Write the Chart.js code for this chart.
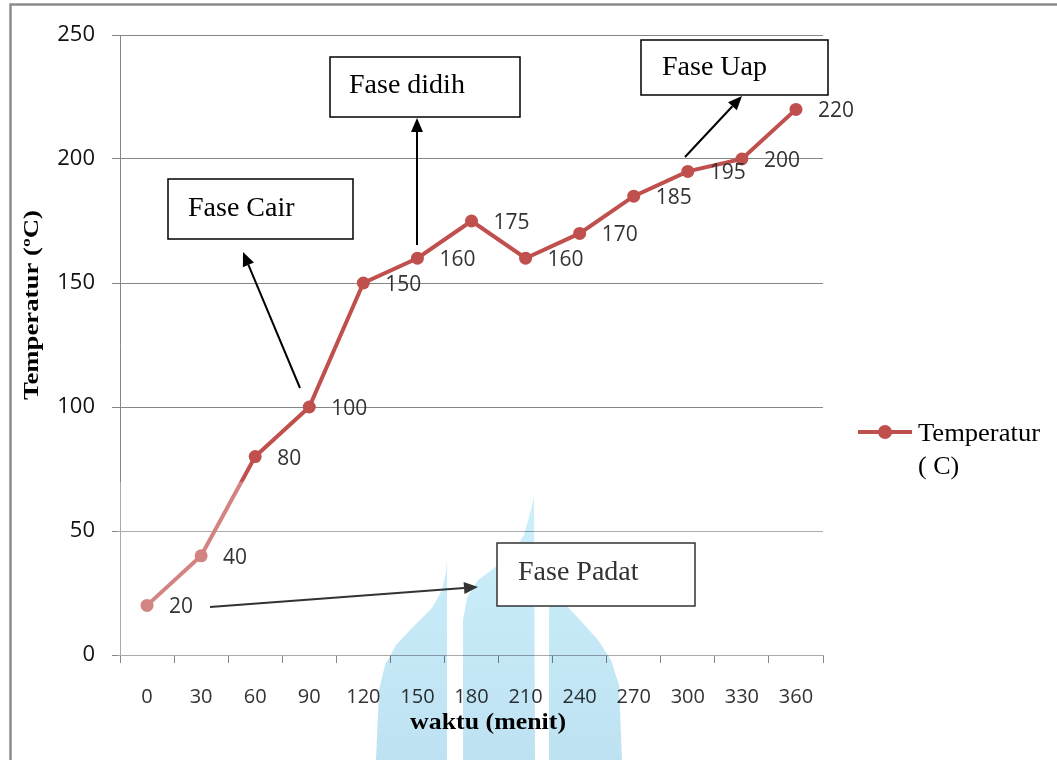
<!DOCTYPE html>
<html>
<head>
<meta charset="utf-8">
<script src="https://cdn.jsdelivr.net/npm/chart.js@4.4.1/dist/chart.umd.min.js"></script>
<style>
  html, body { margin: 0; padding: 0; background: #fff; }
  canvas { display: block; }
</style>
</head>
<body>
<canvas id="myChart" width="1057" height="760"></canvas>
<script>
// data
const waktu = ['0', '30', '60', '90', '120', '150', '180', '210', '240', '270', '300', '330', '360'];
const suhu = [20, 40, 80, 100, 150, 160, 175, 160, 170, 185, 195, 200, 220];
const yMin = 0, yMax = 250, yStep = 50;
const seriesName = ['Temperatur', '( C)'];
const xTitle = 'waktu (menit)';
const yTitle = 'Temperatur (ºC)';

const red = '#C0504D';
const gray = '#868686';

// text boxes + arrows drawn on top (pixel layout of the annotations)
const notes = [
    { text: 'Fase Cair', box: [168, 179, 185, 60], tx: 188, ty: 209, arrow: [300, 388, 243, 252], color: '#000' },
    { text: 'Fase didih', box: [330, 57, 190, 60], tx: 349, ty: 86, arrow: [417, 245, 417, 118], color: '#000' },
    { text: 'Fase Uap', box: [641, 40, 187, 55], tx: 662, ty: 68, arrow: [685, 157, 742, 96], color: '#000' },
    { text: 'Fase Padat', box: [497, 543, 198, 63], tx: 518, ty: 573, arrow: [210, 607, 478, 587], color: '#333' }
];

// watermark lobes behind everything (decoration)
const lobes = [
    [[447, 560], [447, 760], [376, 760], [379, 690], [385, 665], [396, 645], [412, 628], [432, 608], [442, 590], [446, 572]],
    [[534, 496], [535, 760], [463, 760], [463, 620], [467, 598], [478, 580], [497, 566], [512, 553], [524, 535], [531, 510]],
    [[549, 573], [549, 760], [622, 760], [619, 685], [611, 660], [598, 640], [580, 620], [563, 602], [553, 588]]
];

function arrow(ctx, x1, y1, x2, y2, color) {
    const a = Math.atan2(y2 - y1, x2 - x1);
    const len = 14, half = 6;
    const bx = x2 - len * Math.cos(a), by = y2 - len * Math.sin(a);
    ctx.strokeStyle = color;
    ctx.fillStyle = color;
    ctx.lineWidth = 2;
    ctx.beginPath();
    ctx.moveTo(x1, y1);
    ctx.lineTo(bx, by);
    ctx.stroke();
    ctx.beginPath();
    ctx.moveTo(x2, y2);
    ctx.lineTo(bx + half * Math.sin(a), by - half * Math.cos(a));
    ctx.lineTo(bx - half * Math.sin(a), by + half * Math.cos(a));
    ctx.closePath();
    ctx.fill();
}

function fitText(ctx, text, x, y, width) {
    // squeeze/stretch text to the measured width in the picture
    const w = ctx.measureText(text).width;
    ctx.save();
    ctx.translate(x, y);
    ctx.scale(width / w, 1);
    ctx.fillText(text, 0, 0);
    ctx.restore();
}

const decor = {
    id: 'decor',
    beforeDraw(chart) {
        const ctx = chart.ctx;
        ctx.save();
        ctx.fillStyle = '#fff';
        ctx.fillRect(0, 0, chart.width, chart.height);
        ctx.strokeStyle = '#8c8c8c';
        ctx.lineWidth = 2.5;
        ctx.beginPath();
        ctx.moveTo(10.5, 760);
        ctx.lineTo(10.5, 4.5);
        ctx.lineTo(1057, 4.5);
        ctx.stroke();
        ctx.restore();
    },
    afterDatasetsDraw(chart) {
        const ctx = chart.ctx;
        const area = chart.chartArea;
        const meta = chart.getDatasetMeta(0);
        ctx.save();

        // faded lower band of the plot
        ctx.fillStyle = 'rgba(255,255,255,0.3)';
        ctx.fillRect(area.left - 2, 482, area.right - area.left + 4, area.bottom - 482 + 1);

        // watermark (multiply keeps dark text dark)
        ctx.globalCompositeOperation = 'multiply';
        const g = ctx.createLinearGradient(0, 495, 0, 760);
        g.addColorStop(0, '#cdf0fb');
        g.addColorStop(1, '#bfe2f3');
        ctx.fillStyle = g;
        lobes.forEach(pts => {
            ctx.beginPath();
            pts.forEach((p, i) => i ? ctx.lineTo(p[0], p[1]) : ctx.moveTo(p[0], p[1]));
            ctx.closePath();
            ctx.fill();
        });
        ctx.globalCompositeOperation = 'source-over';

        // value labels right of each point
        ctx.font = '21px "Open Sans"';
        ctx.fillStyle = '#333';
        ctx.textAlign = 'left';
        ctx.textBaseline = 'middle';
        meta.data.forEach((pt, i) => {
            ctx.fillText(String(suhu[i]), pt.x + 22, pt.y + 2);
        });

        // axis titles
        ctx.fillStyle = '#000';
        ctx.font = 'bold 23px "Liberation Serif"';
        ctx.textAlign = 'left';
        fitText(ctx, xTitle, 410, 723, 156);
        ctx.save();
        ctx.translate(32, 400);
        ctx.rotate(-Math.PI / 2);
        ctx.font = 'bold 22px "Liberation Serif"';
        fitText(ctx, yTitle, 0, 0, 190);
        ctx.restore();

        // legend
        const ds = chart.data.datasets[0];
        ctx.strokeStyle = ds.borderColor;
        ctx.lineWidth = 4;
        ctx.beginPath();
        ctx.moveTo(858, 432);
        ctx.lineTo(912, 432);
        ctx.stroke();
        ctx.fillStyle = ds.borderColor;
        ctx.beginPath();
        ctx.arc(885, 432, 7, 0, Math.PI * 2);
        ctx.fill();
        ctx.fillStyle = '#000';
        ctx.font = '26px "Liberation Serif"';
        fitText(ctx, seriesName[0], 918, 434, 122);
        ctx.fillText(seriesName[1], 918, 467);

        // annotation boxes and arrows
        notes.forEach(n => {
            ctx.fillStyle = '#fff';
            ctx.fillRect(n.box[0], n.box[1], n.box[2], n.box[3]);
            ctx.strokeStyle = n.color;
            ctx.lineWidth = 1.5;
            ctx.strokeRect(n.box[0], n.box[1], n.box[2], n.box[3]);
            ctx.fillStyle = n.color;
            ctx.font = '28px "Liberation Serif"';
            ctx.textAlign = 'left';
            ctx.textBaseline = 'middle';
            ctx.fillText(n.text, n.tx, n.ty);
            arrow(ctx, n.arrow[0], n.arrow[1], n.arrow[2], n.arrow[3], n.color);
        });

        ctx.restore();
    }
};

let ctx = document.getElementById('myChart').getContext('2d');
let myChart = new Chart(ctx, {
    type: 'line',
    data: {
        labels: waktu,
        datasets: [{
            label: seriesName.join(' '),
            data: suhu,
            borderColor: red,
            backgroundColor: red,
            borderWidth: 4,
            pointRadius: 6.5,
            pointBorderWidth: 0,
            pointBackgroundColor: red,
            fill: false,
            tension: 0
        }]
    },
    options: {
        responsive: false,
        animation: false,
        layout: {
            padding: { top: 35, right: 234, left: 0, bottom: 0 }
        },
        plugins: {
            legend: { display: false },
            tooltip: { enabled: false }
        },
        scales: {
            x: {
                offset: true,
                grid: {
                    offset: true,
                    drawOnChartArea: false,
                    tickLength: 8,
                    color: gray
                },
                border: { color: gray, width: 1 },
                ticks: {
                    font: { family: 'Open Sans', size: 20 },
                    color: '#333',
                    padding: 22,
                    maxRotation: 0,
                    autoSkip: false
                },
                afterFit: s => { s.height = 105; }
            },
            y: {
                min: yMin,
                max: yMax,
                grid: {
                    tickLength: 8,
                    color: gray
                },
                border: { color: gray, width: 1 },
                ticks: {
                    stepSize: yStep,
                    font: { family: 'Open Sans', size: 22 },
                    color: '#111',
                    padding: 17
                },
                afterFit: s => { s.width = 120; }
            }
        }
    },
    plugins: [decor]
});
</script>
</body>
</html>
